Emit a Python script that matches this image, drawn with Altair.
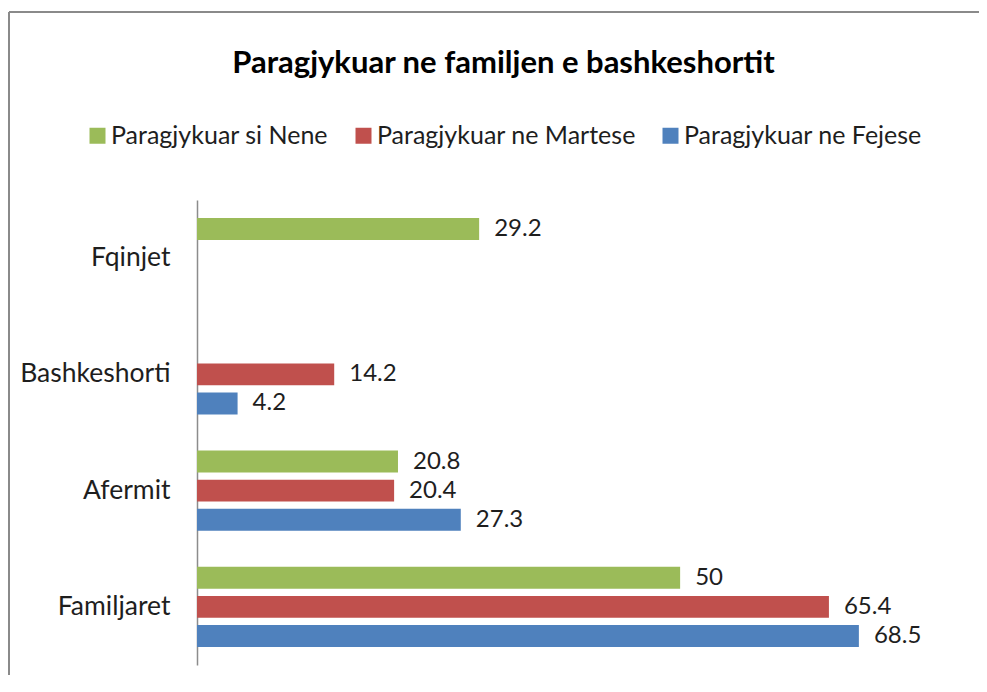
import altair as alt
import pandas as pd

categories = ["Fqinjet", "Bashkeshorti", "Afermit", "Familjaret"]
series = ["Paragjykuar si Nene", "Paragjykuar ne Martese", "Paragjykuar ne Fejese"]
nene = [29.2, None, 20.8, 50]
martese = [None, 14.2, 20.4, 65.4]
fejese = [None, 4.2, 27.3, 68.5]
colors = ["#9BBB59", "#C0504D", "#4F81BD"]
title_text = "Paragjykuar ne familjen e bashkeshortit"

rows = []
for s, vals in zip(series, [nene, martese, fejese]):
    for c, v in zip(categories, vals):
        if v is not None:
            rows.append({"cat": c, "series": s, "value": v})
df = pd.DataFrame(rows)

FONT = "Lato"
TXT = "#1e1e1e"

base = alt.Chart(df).encode(
    y=alt.Y(
        "cat:N",
        sort=categories,
        scale=alt.Scale(domain=categories, paddingInner=0.2516, paddingOuter=0.1258),
        axis=alt.Axis(
            title=None, labelFont=FONT, labelFontSize=26.5, labelColor=TXT,
            labelPadding=27, ticks=False, domainColor="#8c8c8c", domainWidth=1.5,
            grid=False,
        ),
    ),
    yOffset=alt.YOffset(
        "series:N",
        sort=series,
        scale=alt.Scale(domain=series, paddingInner=0.2414, paddingOuter=0.1207),
    ),
    x=alt.X("value:Q", scale=alt.Scale(domain=[0, 80]), axis=None),
)

bars = base.mark_bar().encode(
    color=alt.Color(
        "series:N",
        sort=series,
        scale=alt.Scale(domain=series, range=colors),
        legend=alt.Legend(
            title=None, orient="none", legendX=-112, legendY=-77,
            direction="horizontal", symbolType="square", symbolSize=256,
            symbolStrokeWidth=0, labelFont=FONT, labelFontSize=25,
            labelColor=TXT, columnPadding=22, labelOffset=1, labelLimit=400,
        ),
    )
)

text = base.mark_text(
    align="left", baseline="middle", dx=15, font=FONT, fontSize=24, color=TXT
).encode(text=alt.Text("value:Q", format=".1~f"))

frame_df = pd.DataFrame({"a": [0]})
left_border = alt.Chart(frame_df).mark_rule(color="#8a8a8a", strokeWidth=2).encode(
    x=alt.value(-188), y=alt.value(-188), y2=alt.value(520)
)
top_border = alt.Chart(frame_df).mark_rule(color="#8a8a8a", strokeWidth=2).encode(
    x=alt.value(-188), x2=alt.value(820), y=alt.value(-188)
)

chart = alt.layer(left_border, top_border, bars, text).properties(
    width=773,
    height=465,
    autosize=alt.AutoSizeParams(type="none"),
    padding={"left": 189, "top": 192, "right": 9, "bottom": 10},
    title=alt.TitleParams(
        title_text, font=FONT, fontSize=31, fontWeight="bold", color="#000",
        anchor="middle", frame="group", dx=-80, offset=-93, baseline="alphabetic",
    ),
).configure_view(stroke=None)

chart.save("out.html", embed_options={"renderer": "svg", "actions": False})
